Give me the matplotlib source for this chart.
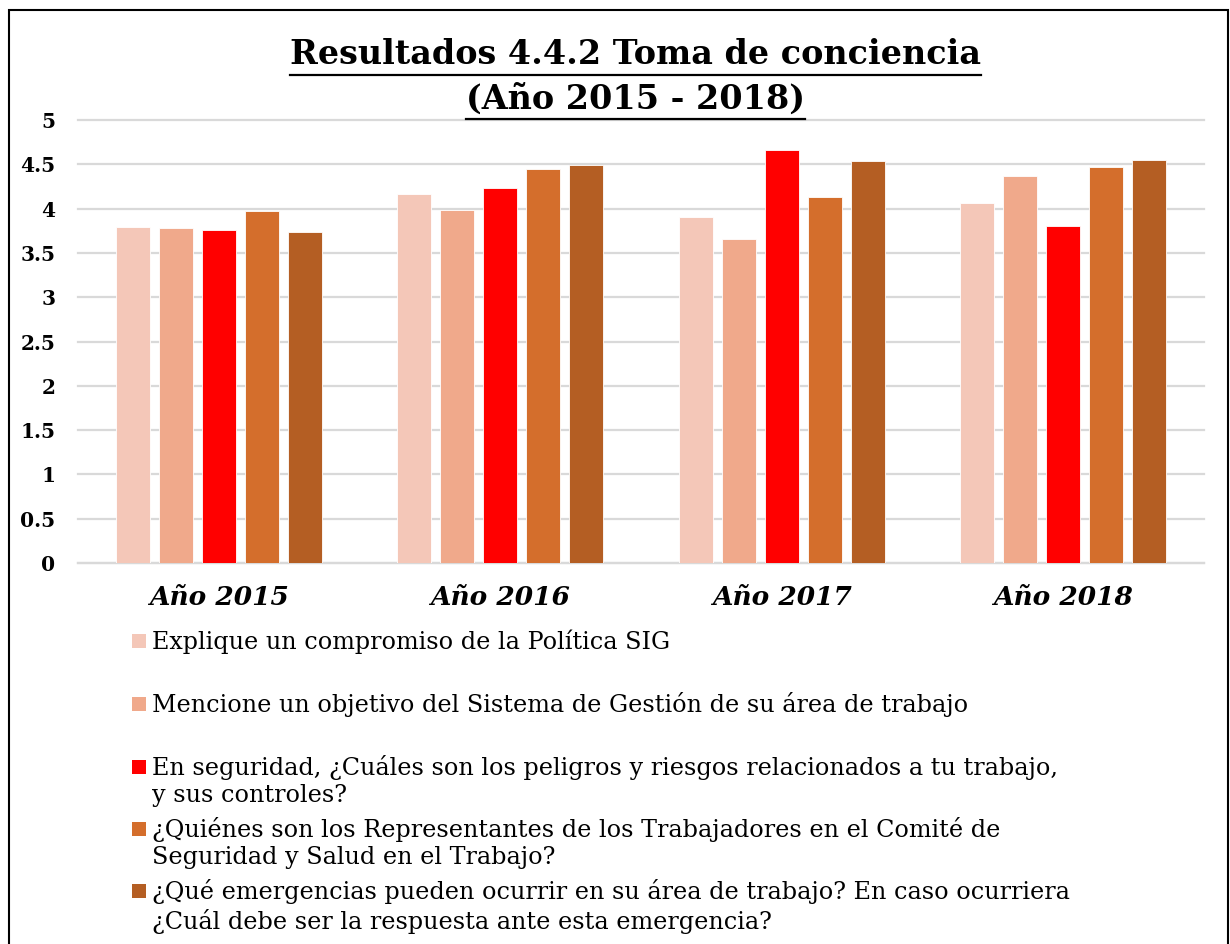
import matplotlib
matplotlib.use("Agg")
import matplotlib.pyplot as plt
import numpy as np
from matplotlib.patches import Rectangle
from matplotlib.lines import Line2D

FONT = "DejaVu Serif"

years = ["Año 2015", "Año 2016", "Año 2017", "Año 2018"]
preguntas = [
    "Explique un compromiso de la Política SIG",
    "Mencione un objetivo del Sistema de Gestión de su área de trabajo",
    "En seguridad, ¿Cuáles son los peligros y riesgos relacionados a tu trabajo,\ny sus controles?",
    "¿Quiénes son los Representantes de los Trabajadores en el Comité de\nSeguridad y Salud en el Trabajo?",
    "¿Qué emergencias pueden ocurrir en su área de trabajo? En caso ocurriera\n¿Cuál debe ser la respuesta ante esta emergencia?",
]
compromiso = [3.79, 4.16, 3.90, 4.06]
objetivo = [3.78, 3.98, 3.66, 4.37]
peligros = [3.76, 4.23, 4.66, 3.80]
representantes = [3.97, 4.45, 4.13, 4.47]
emergencias = [3.74, 4.49, 4.54, 4.55]
colores = ["#F4C7B8", "#F0A98B", "#FF0000", "#D46E2C", "#B45E23"]

yticks = [0, 0.5, 1, 1.5, 2, 2.5, 3, 3.5, 4, 4.5, 5]
ytick_labels = ["0", "0.5", "1", "1.5", "2", "2.5", "3", "3.5", "4", "4.5", "5"]

W, H = 1230, 944


def main():
    fig = plt.figure(figsize=(W / 100, H / 100), dpi=100)
    ax = fig.add_axes([78 / W, 1 - 563 / H, (1204 - 78) / W, (563 - 120) / H])

    series = [compromiso, objetivo, peligros, representantes, emergencias]
    x = np.arange(len(years))
    width = 0.121
    step = 0.153
    for i, vals in enumerate(series):
        ax.bar(x + (i - 2) * step, vals, width, color=colores[i],
               edgecolor="white", linewidth=0.6, zorder=3)

    ax.set_xlim(-0.5, len(years) - 0.5)
    ax.set_ylim(0, 5)
    ax.set_yticks(yticks)
    ax.set_yticklabels(ytick_labels, fontfamily=FONT, fontweight="bold",
                       fontsize=14.5)
    ax.set_xticks(x)
    ax.set_xticklabels(years, fontfamily=FONT, fontweight="bold",
                       fontstyle="italic", fontsize=19)
    ax.tick_params(axis="y", length=0, pad=16.5)
    ax.tick_params(axis="x", length=0, pad=16)
    ax.grid(axis="y", color="#D9D9D9", linewidth=1.6, zorder=0)
    for gl in ax.get_ygridlines():
        gl.set_clip_on(False)
    for s in ["top", "right", "left"]:
        ax.spines[s].set_visible(False)
    ax.spines["bottom"].set_color("#D9D9D9")
    ax.spines["bottom"].set_linewidth(1.6)

    # titulo subrayado
    fig.canvas.draw()
    renderer = fig.canvas.get_renderer()
    for linea, yc in [("Resultados 4.4.2 Toma de conciencia", 55),
                      ("(Año 2015 - 2018)", 99)]:
        t = fig.text(635 / W, 1 - yc / H, linea, ha="center", va="center",
                     fontfamily=FONT, fontweight="bold", fontsize=24)
        bb = t.get_window_extent(renderer)
        yl = 1 - (yc + 20) / H
        fig.add_artist(Line2D([bb.x0 / W, bb.x1 / W], [yl, yl],
                              color="black", linewidth=1.6))

    # leyenda manual
    ys = [641, 704, 767, 829, 891]
    for i, (txt, yc) in enumerate(zip(preguntas, ys)):
        fig.add_artist(Rectangle((132 / W, 1 - (yc + 7) / H), 14 / W, 14 / H,
                                 facecolor=colores[i], edgecolor="none"))
        fig.text(152 / W, 1 - (yc - 12) / H, txt, ha="left", va="top",
                 fontfamily=FONT, fontsize=17.2, linespacing=1.24)

    # borde
    fig.add_artist(Rectangle((9 / W, -0.02), (1228 - 9) / W, 1.02 - 10 / H,
                             fill=False, edgecolor="black", linewidth=1.5))

    fig.savefig("out.png", dpi=100)


if __name__ == "__main__":
    main()
